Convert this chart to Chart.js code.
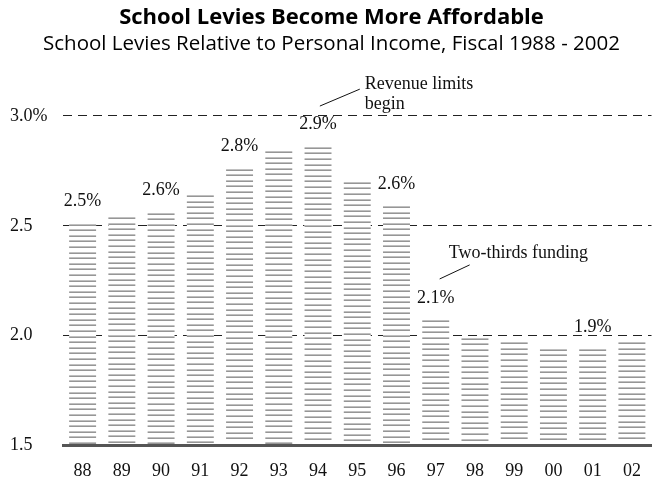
<!DOCTYPE html>
<html>
<head>
<meta charset="utf-8">
<script src="https://cdn.jsdelivr.net/npm/chart.js@4/dist/chart.umd.min.js"></script>
<style>
  html, body { margin: 0; padding: 0; background: #fff; }
  #wrap { width: 656px; height: 483px; }
</style>
</head>
<body>
<div id="wrap"><canvas id="levyChart"></canvas></div>
<script>
// Fiscal years and levies as % of personal income
const years = ["88", "89", "90", "91", "92", "93", "94", "95", "96", "97", "98", "99", "00", "01", "02"]
const levyShare = [2.51, 2.54, 2.56, 2.64, 2.76, 2.84, 2.86, 2.70, 2.59, 2.07, 1.99, 1.97, 1.94, 1.94, 1.97]
const barLabels = ["2.5%", "", "2.6%", "", "2.8%", "", "2.9%", "", "2.6%", "2.1%", "", "", "", "1.9%", ""]
const yTicks = [1.5, 2.0, 2.5, 3.0]

// notes placed in data space (category index, value)
const notes = [
  { lines: ["Revenue limits", "begin"], at: [7.19, 3.145], lineStep: 0.091, leader: [[7.065, 3.122], [6.047, 3.045]] },
  { lines: ["Two-thirds funding"], at: [9.33, 2.376], lineStep: 0, leader: [[9.865, 2.322], [9.1, 2.258]] },
]

const serif = "'Liberation Serif', 'Times New Roman', serif"

// striped bars + value labels + notes
const stripePlugin = {
  id: "stripes",
  afterDatasetsDraw(chart) {
    const ctx = chart.ctx
    const meta = chart.getDatasetMeta(0)
    const bottom = chart.chartArea.bottom
    ctx.save()
    meta.data.forEach((bar, i) => {
      const left = bar.x - bar.width / 2
      const base = Math.min(bar.base, bottom)
      ctx.fillStyle = "#fff"
      ctx.fillRect(left, bar.y, bar.width, base - bar.y - 1.5)
      for (let yy = bar.y; yy < base - 3; yy += 5.6) {
        const r = Math.round(yy)
        ctx.fillStyle = "#c0c0c0"
        ctx.fillRect(left, r, bar.width, 1)
        ctx.fillStyle = "#969696"
        ctx.fillRect(left, r + 1, bar.width, 1)
      }
      if (barLabels[i]) {
        ctx.fillStyle = "#111"
        ctx.font = "18px " + serif
        ctx.textAlign = "center"
        ctx.textBaseline = "middle"
        ctx.fillText(barLabels[i], bar.x, bar.y - 22)
      }
    })

    const xs = chart.scales.x
    const ys = chart.scales.y
    ctx.font = "18px " + serif
    ctx.textAlign = "left"
    ctx.textBaseline = "middle"
    ctx.fillStyle = "#111"
    ctx.strokeStyle = "#111"
    ctx.lineWidth = 1
    notes.forEach((n) => {
      n.lines.forEach((t, k) => {
        ctx.fillText(t, xs.getPixelForValue(n.at[0]), ys.getPixelForValue(n.at[1] - k * n.lineStep))
      })
      ctx.beginPath()
      ctx.moveTo(xs.getPixelForValue(n.leader[0][0]), ys.getPixelForValue(n.leader[0][1]))
      ctx.lineTo(xs.getPixelForValue(n.leader[1][0]), ys.getPixelForValue(n.leader[1][1]))
      ctx.stroke()
    })
    ctx.restore()
  },
}

new Chart(document.getElementById("levyChart"), {
  type: "bar",
  data: {
    labels: years,
    datasets: [
      {
        data: levyShare,
        backgroundColor: "rgba(0,0,0,0)",
        barPercentage: 0.687,
        categoryPercentage: 1,
      },
    ],
  },
  options: {
    responsive: true,
    maintainAspectRatio: false,
    animation: false,
    layout: {
      padding: { left: 10, right: 3, top: 0, bottom: 2 },
    },
    plugins: {
      legend: { display: false },
      tooltip: { enabled: false },
      title: {
        display: true,
        text: "School Levies Become More Affordable",
        color: "#000",
        font: { family: "'Open Sans', sans-serif", size: 22, weight: "bold" },
        padding: { top: 5, bottom: 0 },
      },
      subtitle: {
        display: true,
        text: "School Levies Relative to Personal Income, Fiscal 1988 - 2002",
        color: "#000",
        font: { family: "'Open Sans', sans-serif", size: 20.5 },
        padding: { top: 0, bottom: 16 },
      },
    },
    scales: {
      y: {
        min: 1.5,
        max: 3.2,
        afterBuildTicks: (scale) => {
          scale.ticks = yTicks.map((v) => ({ value: v }))
        },
        afterFit: (scale) => {
          scale.width = 53
        },
        grid: {
          drawTicks: false,
          color: (c) => (c.tick && c.tick.value === 1.5 ? "rgba(0,0,0,0)" : "#222"),
          lineWidth: 1,
        },
        border: { display: false, dash: [9, 6] },
        ticks: {
          crossAlign: "far",
          padding: 0,
          color: "#111",
          font: { family: serif, size: 18 },
          callback: (v) => (v === 3 ? "3.0%" : v.toFixed(1)),
        },
      },
      x: {
        afterFit: (scale) => {
          scale.height = 35.5
        },
        grid: { display: false, drawTicks: false },
        border: { display: true, color: "#555", width: 3 },
        ticks: {
          padding: 15,
          color: "#111",
          font: { family: serif, size: 18 },
        },
      },
    },
  },
  plugins: [stripePlugin],
})
</script>
</body>
</html>
